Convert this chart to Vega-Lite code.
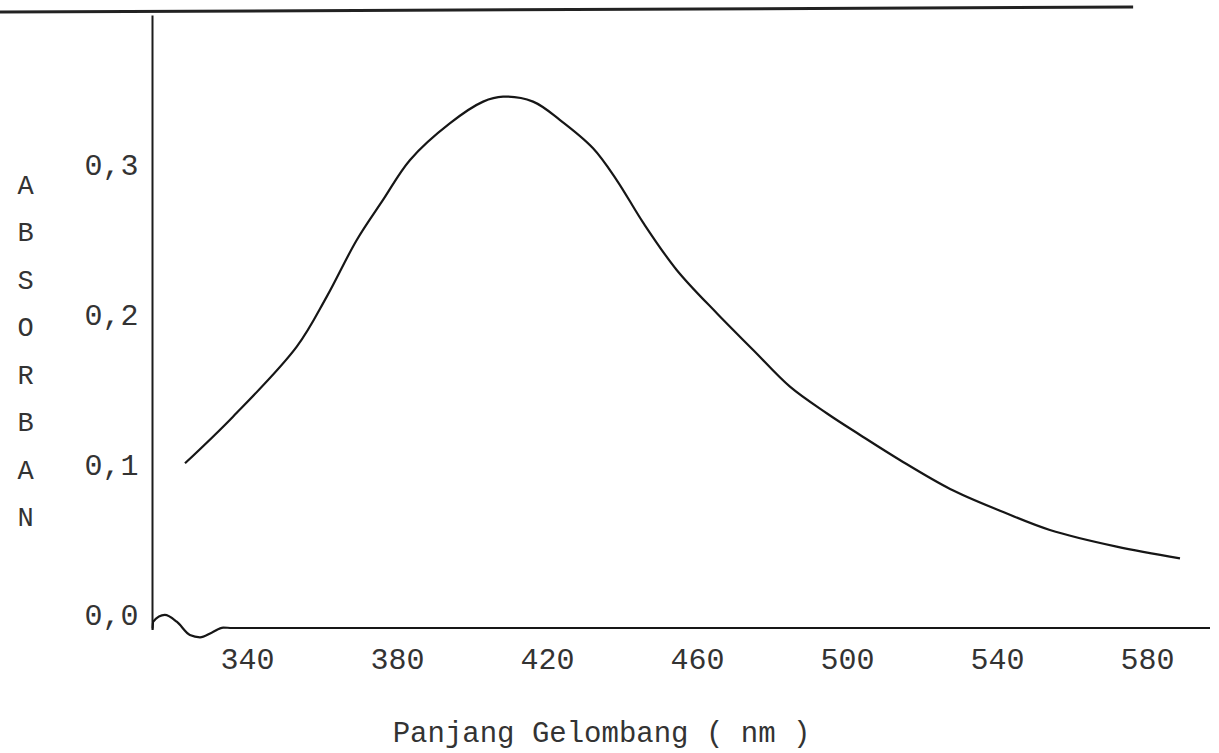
{
  "$schema": "https://vega.github.io/schema/vega-lite/v6.json",
  "width": 1058,
  "height": 613,
  "autosize": "none",
  "padding": {"left": 152, "top": 15, "right": 9, "bottom": 125},
  "background": "white",
  "config": {"view": {"stroke": null}, "font": "Liberation Mono"},
  "datasets": {
    "spectrum": [
      {"wavelength": 323.5, "absorbance": 0.1016},
      {"wavelength": 336.3, "absorbance": 0.1327},
      {"wavelength": 353.3, "absorbance": 0.1794},
      {"wavelength": 361.3, "absorbance": 0.2128},
      {"wavelength": 369.3, "absorbance": 0.2506},
      {"wavelength": 376.3, "absorbance": 0.2773},
      {"wavelength": 383.5, "absorbance": 0.3040},
      {"wavelength": 394.1, "absorbance": 0.3284},
      {"wavelength": 403.0, "absorbance": 0.3429},
      {"wavelength": 408.3, "absorbance": 0.3462},
      {"wavelength": 416.3, "absorbance": 0.3429},
      {"wavelength": 423.5, "absorbance": 0.3306},
      {"wavelength": 432.3, "absorbance": 0.3118},
      {"wavelength": 438.6, "absorbance": 0.2906},
      {"wavelength": 445.7, "absorbance": 0.2620},
      {"wavelength": 454.6, "absorbance": 0.2306},
      {"wavelength": 465.3, "absorbance": 0.2017},
      {"wavelength": 475.0, "absorbance": 0.1772},
      {"wavelength": 484.8, "absorbance": 0.1527},
      {"wavelength": 494.6, "absorbance": 0.1350},
      {"wavelength": 503.5, "absorbance": 0.1205},
      {"wavelength": 514.1, "absorbance": 0.1038},
      {"wavelength": 527.5, "absorbance": 0.0845},
      {"wavelength": 540.8, "absorbance": 0.0700},
      {"wavelength": 554.1, "absorbance": 0.0571},
      {"wavelength": 571.9, "absorbance": 0.0460},
      {"wavelength": 588.8, "absorbance": 0.0382}
    ],
    "baseline": [
      {"wavelength": 314.85, "absorbance": -0.0096},
      {"wavelength": 315.0, "absorbance": -0.0041},
      {"wavelength": 318.1, "absorbance": 0.0004},
      {"wavelength": 321.3, "absorbance": -0.0041},
      {"wavelength": 324.8, "absorbance": -0.0130},
      {"wavelength": 327.5, "absorbance": -0.0145},
      {"wavelength": 330.6, "absorbance": -0.0114},
      {"wavelength": 333.7, "absorbance": -0.0080},
      {"wavelength": 336.0, "absorbance": -0.0083},
      {"wavelength": 596.8, "absorbance": -0.0083}
    ],
    "edge": [
      {"xa": 274.1, "xb": 576.3, "ya": 0.4027, "yb": 0.4060}
    ]
  },
  "layer": [
    {
      "data": {"name": "spectrum"},
      "mark": {"type": "line", "interpolate": "catmull-rom", "color": "#161616", "strokeWidth": 2.2, "clip": false},
      "encoding": {
        "x": {
          "field": "wavelength",
          "type": "quantitative",
          "scale": {"domain": [314.7, 596.8], "nice": false, "zero": false},
          "axis": {
            "values": [340, 380, 420, 460, 500, 540, 580],
            "domain": false,
            "ticks": false,
            "grid": false,
            "labelFont": "Liberation Mono",
            "labelFontSize": 30,
            "labelColor": "#333333",
            "labelPadding": 16,
            "title": "Panjang Gelombang ( nm )",
            "titleFont": "Liberation Mono",
            "titleFontSize": 29,
            "titleFontWeight": "normal",
            "titleColor": "#333333",
            "titleX": 449,
            "titleY": 104,
            "titleAlign": "center",
            "titleBaseline": "middle"
          }
        },
        "y": {
          "field": "absorbance",
          "type": "quantitative",
          "scale": {"domain": [-0.0083, 0.4007], "nice": false, "zero": false},
          "axis": {
            "values": [0, 0.1, 0.2, 0.3],
            "labelExpr": "replace(format(datum.value, '.1f'), '.', ',')",
            "domain": true,
            "domainColor": "#1c1c1c",
            "domainWidth": 2,
            "ticks": false,
            "grid": false,
            "labelFont": "Liberation Mono",
            "labelFontSize": 30,
            "labelColor": "#333333",
            "labelPadding": 14,
            "title": ["A", "B", "S", "O", "R", "B", "A", "N"],
            "titleAngle": 0,
            "titleFont": "Liberation Mono",
            "titleFontSize": 27,
            "titleFontWeight": "normal",
            "titleColor": "#333333",
            "titleLineHeight": 47.5,
            "titleX": -127,
            "titleY": 157,
            "titleAlign": "center",
            "titleBaseline": "top"
          }
        }
      }
    },
    {
      "data": {"name": "baseline"},
      "mark": {"type": "line", "interpolate": "monotone", "color": "#161616", "strokeWidth": 2.2, "clip": false},
      "encoding": {
        "x": {"field": "wavelength", "type": "quantitative"},
        "y": {"field": "absorbance", "type": "quantitative"}
      }
    },
    {
      "data": {"name": "edge"},
      "mark": {"type": "rule", "color": "#222222", "strokeWidth": 3, "clip": false},
      "encoding": {
        "x": {"field": "xa", "type": "quantitative"},
        "x2": {"field": "xb"},
        "y": {"field": "ya", "type": "quantitative"},
        "y2": {"field": "yb"}
      }
    }
  ]
}
